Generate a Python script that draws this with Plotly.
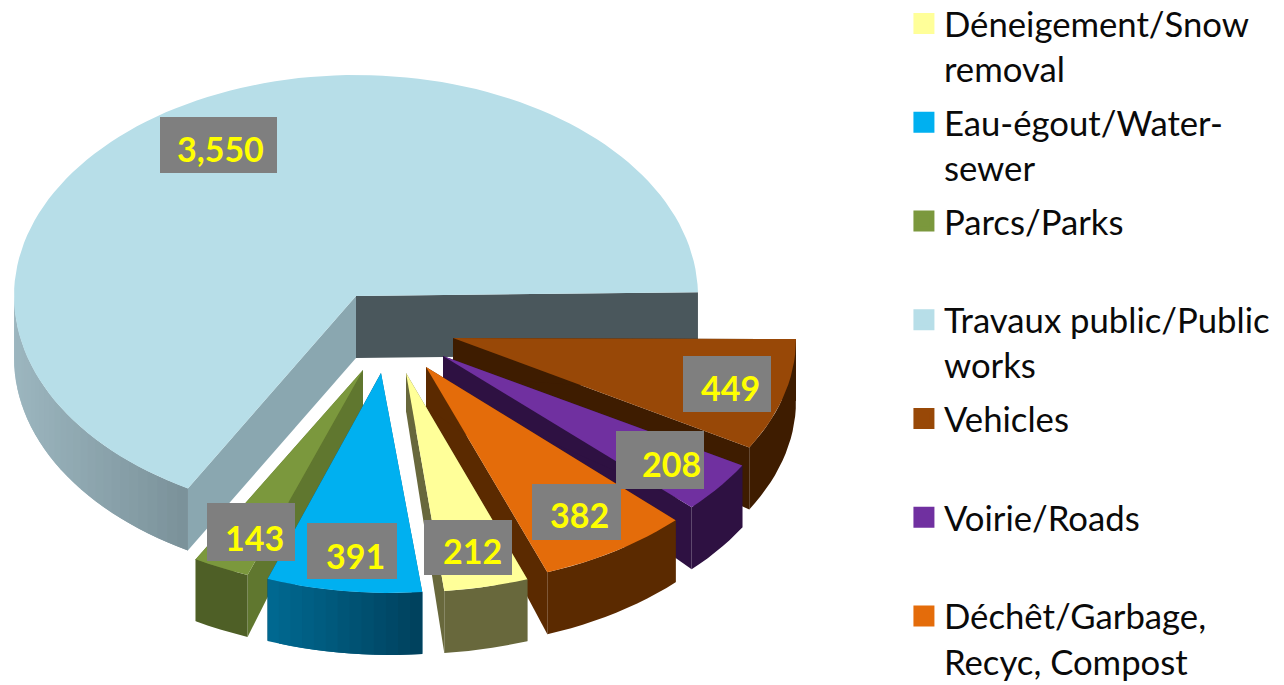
import math
import plotly.graph_objects as go

# ---- data (pie order, counter-clockwise from 3 o'clock) ----
pie_names = ["Travaux public/Public works", "Parcs/Parks", "Eau-égout/Water-sewer",
             "Déneigement/Snow removal", "Déchêt/Garbage, Recyc, Compost",
             "Voirie/Roads", "Vehicles"]
pie_values = [3550, 143, 391, 212, 382, 208, 449]
value_labels = ["3,550", "143", "391", "212", "382", "208", "449"]
top_colors = ["#B7DEE8", "#7B983D", "#00B0F0", "#FFFF99", "#E46C0A", "#7030A0", "#984807"]

legend_order = ["Déneigement/Snow removal", "Eau-égout/Water-sewer", "Parcs/Parks",
                "Travaux public/Public works", "Vehicles", "Voirie/Roads",
                "Déchêt/Garbage, Recyc, Compost"]
legend_labels = ["Déneigement/Snow<br>removal", "Eau-égout/Water-<br>sewer", "Parcs/Parks<br> ",
                 "Travaux public/Public<br>works", "Vehicles<br> ", "Voirie/Roads<br> ",
                 "Déchêt/Garbage,<br>Recyc, Compost"]

# ---- 3-D look ----
CX, CY, RX, DEPTH = 356, 296, 342, 62
radius_y = [221, 215, 215, 215, 215, 215, 215]
view_turn = [1, 0, 0, 0, 0, 0, 0]  # perspective turn of the large slice, degrees
pull_x = [0, 13, 33, 55, 75, 91, 98]
pull_y = [0, 78, 82, 81, 74, 61, 43]
apex_shift = [(0, 0), (-6, -4), (-8, -5), (-5, -4), (-5, -3), (-4, -1), (-1, -1)]
apex_depth = [62, 38, 38, 38, 40, 38, 38]
wall_from = ["#9CB6BF", "#4E5F26", "#006A92", "#68683C", "#5B2A00", "#2E1142", "#3E1C00"]
wall_to = ["#7A9199", "#4E5F26", "#00405C", "#68683C", "#5B2A00", "#2E1142", "#3E1C00"]
face_start = ["#4A575C", "#60772F", "#00405C", "#68683C", "#5B2A00", "#2E1142", "#3E1C00"]
face_end = ["#8AA7B0", "#60772F", "#006A92", "#68683C", "#5B2A00", "#2E1142", "#3E1C00"]
draw_order = [0, 1, 6, 5, 4, 3, 2]
box_x0 = [160, 207, 307, 424, 532, 616, 683]
box_x1 = [277, 295, 397, 512, 621, 704, 771]
box_y0 = [117, 503, 523, 520, 484, 431, 356]
box_y1 = [173, 561, 579, 575, 540, 489, 412]
text_x = [220, 254, 355, 472, 579, 671, 730]
text_y = [148, 537, 555, 550, 514, 463, 387]


def mix(a, b, t):
    ca = [int(a[i:i + 2], 16) for i in (1, 3, 5)]
    cb = [int(b[i:i + 2], 16) for i in (1, 3, 5)]
    return "#%02X%02X%02X" % tuple(round(p + (q - p) * t) for p, q in zip(ca, cb))


def arc(cx, cy, ry, a0, a1, n):
    pts = [a0 + (a1 - a0) * i / n for i in range(n + 1)]
    return [cx + RX * math.cos(math.radians(t)) for t in pts], \
           [cy - ry * math.sin(math.radians(t)) for t in pts]


def poly(fig, xs, ys, color):
    fig.add_trace(go.Scatter(x=xs + xs[:1], y=ys + ys[:1], mode="lines", fill="toself",
                             fillcolor=color, line=dict(width=0),
                             hoverinfo="skip", showlegend=False))


total = sum(pie_values)
angles = [0.0]
for v in pie_values:
    angles.append(angles[-1] + v / total * 360)

fig = go.Figure()
for i in draw_order:
    a0, a1 = angles[i] + view_turn[i], angles[i + 1] + view_turn[i]
    ry = radius_y[i]
    cx, cy = CX + pull_x[i], CY + pull_y[i]
    ax, ay = cx + apex_shift[i][0], cy + apex_shift[i][1]
    # cut faces
    for ang, col in ((a0, face_start[i]), (a1, face_end[i])):
        ox = cx + RX * math.cos(math.radians(ang))
        oy = cy - ry * math.sin(math.radians(ang))
        poly(fig, [ax, ox, ox, ax], [ay, oy, oy + DEPTH, ay + apex_depth[i]], col)
    # outer wall, only the part facing the viewer
    lo, hi = max(a0, 180), a1
    if hi > lo:
        n = max(2, int((hi - lo) / 2))
        xs, ys = arc(cx, cy, ry, lo, hi, n)
        if wall_from[i] == wall_to[i]:
            poly(fig, xs + xs[::-1], ys + [y + DEPTH for y in ys[::-1]], wall_from[i])
        else:
            x_min, x_max = min(xs), max(xs)
            for k in range(n):
                t = ((xs[k] + xs[k + 1]) / 2 - x_min) / (x_max - x_min)
                e = min(k + 2, n)  # overlap the next strip so no seam shows
                sx, sy = xs[k:e + 1], ys[k:e + 1]
                poly(fig, sx + sx[::-1], sy + [y + DEPTH for y in sy[::-1]],
                     mix(wall_from[i], wall_to[i], t))
    # top surface
    xs, ys = arc(cx, cy, ry, a0, a1, max(4, int((a1 - a0) / 2)))
    poly(fig, [ax] + xs, [ay] + ys, top_colors[i])

# legend entries
for name, lab in zip(legend_order, legend_labels):
    c = top_colors[pie_names.index(name)]
    fig.add_trace(go.Scatter(x=[None], y=[None], mode="markers", name=lab, legendgroup=name,
                             marker=dict(symbol="square", size=16, color=c,
                                         line=dict(color=c, width=5)), hoverinfo="skip"))

# value labels
for i, t in enumerate(value_labels):
    fig.add_shape(type="rect", xref="x", yref="y", x0=box_x0[i], x1=box_x1[i],
                  y0=box_y0[i], y1=box_y1[i], fillcolor="#7F7F7F", line_width=0, layer="above")
    fig.add_annotation(x=text_x[i], y=text_y[i], xref="x", yref="y", text=f"<b>{t}</b>",
                       showarrow=False, font=dict(family="Lato", size=34, color="#FFFF00"))

fig.update_layout(
    width=1284, height=685, margin=dict(l=0, r=0, t=0, b=0, autoexpand=False),
    paper_bgcolor="white", plot_bgcolor="white",
    xaxis=dict(range=[0, 1284], visible=False, domain=[0, 1], fixedrange=True),
    yaxis=dict(range=[685, 0], visible=False, domain=[0, 1], fixedrange=True),
    legend=dict(x=0.704, y=1.008, xanchor="left", yanchor="top", valign="top", maxheight=760,
                font=dict(family="Lato", size=34.7, color="#0A0A0A"),
                traceorder="grouped", tracegroupgap=5.5, itemclick=False, itemdoubleclick=False,
                bgcolor="rgba(0,0,0,0)"),
)
fig.write_html("out.html", config=dict(displayModeBar=False),
               post_script="document.body.style.margin='0';document.body.style.overflow='hidden';")
